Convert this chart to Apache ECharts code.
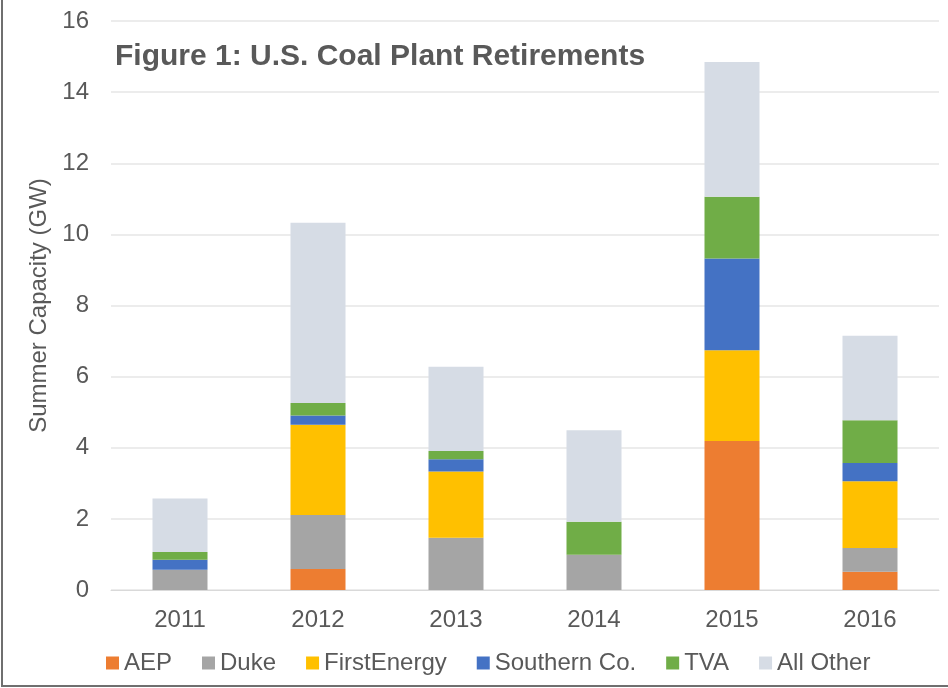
<!DOCTYPE html>
<head>
    <meta charset="utf-8">
    <title>Figure 1: U.S. Coal Plant Retirements</title>
    <script src="https://cdn.jsdelivr.net/npm/echarts@6/dist/echarts.min.js"></script>
    <style>
        body { margin: 0; background: #fff; }
        #main { width: 948px; height: 688px; }
    </style>
</head>
<body>
    <div id="main"></div>
    <script type="text/javascript">
        var years = ['2011', '2012', '2013', '2014', '2015', '2016'];
        var aep = [0, 0.59, 0, 0, 4.19, 0.51];
        var duke = [0.57, 1.52, 1.47, 0.99, 0, 0.67];
        var firstEnergy = [0, 2.54, 1.86, 0, 2.55, 1.88];
        var southern = [0.28, 0.26, 0.35, 0, 2.58, 0.51];
        var tva = [0.22, 0.35, 0.23, 0.93, 1.74, 1.2];
        var allOther = [1.5, 5.07, 2.37, 2.57, 3.79, 2.38];

        var myChart = echarts.init(document.getElementById('main'));
        var txt = '#595959';
        var font = 'Liberation Sans, Arial, sans-serif';

        function bar(name, data, color) {
            return {
                name: name,
                type: 'bar',
                stack: 'total',
                data: data,
                barWidth: 55,
                itemStyle: { color: color },
                emphasis: { disabled: true }
            };
        }

        var option = {
            animation: false,
            textStyle: { fontFamily: font },
            title: {
                text: 'Figure 1: U.S. Coal Plant Retirements',
                left: 110,
                top: 37,
                textStyle: { color: txt, fontSize: 30, fontWeight: 'bold', fontFamily: font }
            },
            legend: {
                left: 101,
                top: 646,
                itemWidth: 13,
                itemHeight: 13,
                itemGap: 30,
                icon: 'rect',
                textStyle: { color: txt, fontSize: 24, fontFamily: font },
                data: ['AEP', 'Duke', 'FirstEnergy', 'Southern Co.', 'TVA', 'All Other']
            },
            grid: { left: 111, right: 9, top: 21, bottom: 98, containLabel: false },
            xAxis: {
                type: 'category',
                data: years,
                axisLine: { lineStyle: { color: '#d9d9d9', width: 1 } },
                axisTick: { show: false },
                axisLabel: { color: txt, fontSize: 24, margin: 18, fontFamily: font }
            },
            yAxis: {
                type: 'value',
                min: 0,
                max: 16,
                interval: 2,
                name: 'Summer Capacity (GW)',
                nameLocation: 'middle',
                nameGap: 49,
                nameTextStyle: { color: txt, fontSize: 24, fontFamily: font },
                axisLine: { show: false },
                axisTick: { show: false },
                axisLabel: { color: txt, fontSize: 24, margin: 22, fontFamily: font },
                splitLine: { lineStyle: { color: '#ececec', width: 2 } }
            },
            graphic: [{
                type: 'rect',
                shape: { x: 2, y: -4, width: 960, height: 690 },
                style: { fill: 'none', stroke: '#6f6f6f', lineWidth: 2 },
                silent: true
            }],
            series: [
                bar('AEP', aep, '#ed7d31'),
                bar('Duke', duke, '#a5a5a5'),
                bar('FirstEnergy', firstEnergy, '#ffc000'),
                bar('Southern Co.', southern, '#4472c4'),
                bar('TVA', tva, '#70ad47'),
                bar('All Other', allOther, '#d6dce5')
            ]
        };
        myChart.setOption(option);
    </script>
</body>
